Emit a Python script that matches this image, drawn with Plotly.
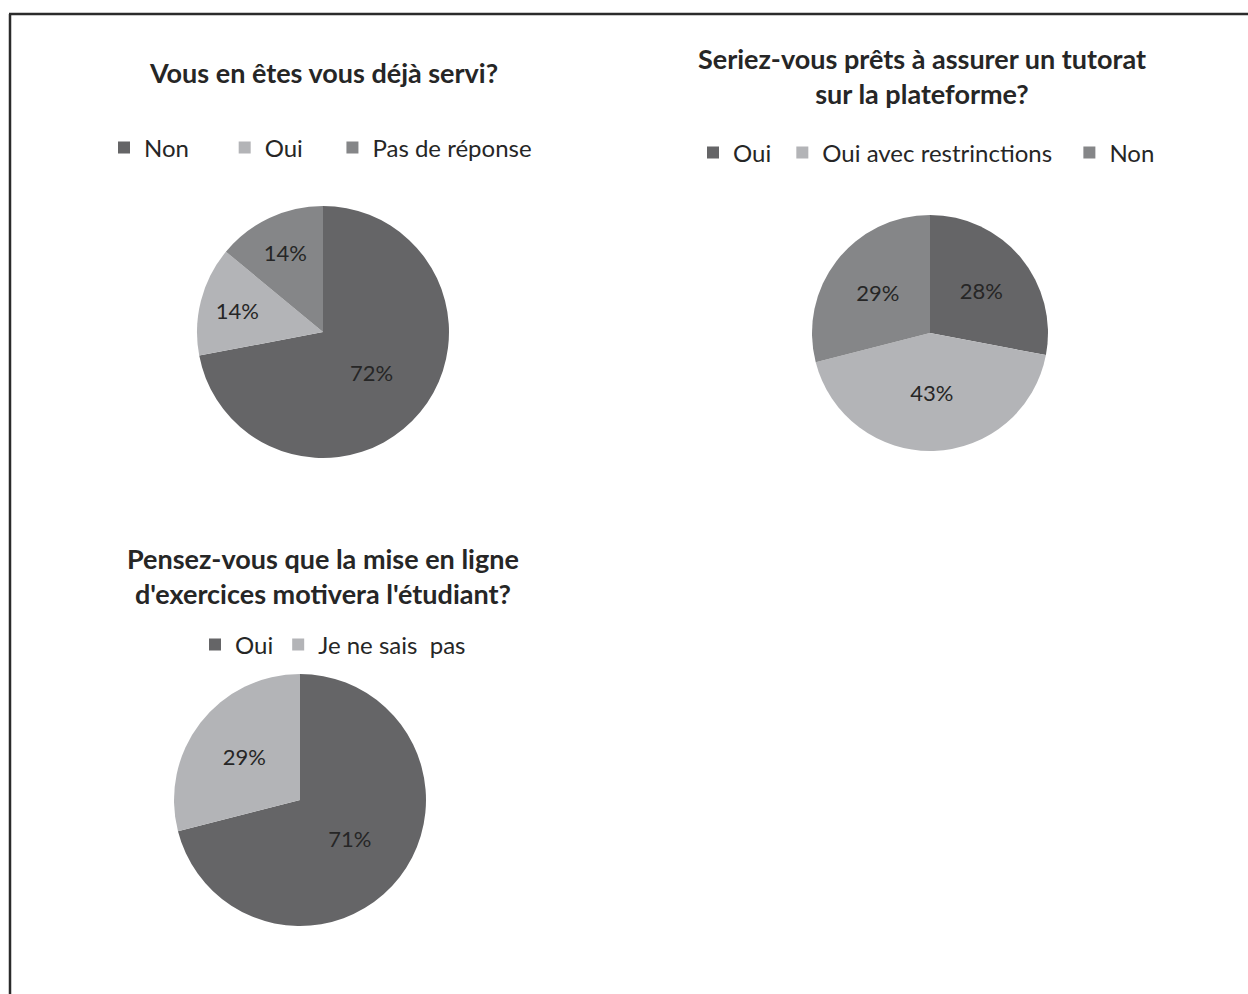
import plotly.graph_objects as go

W, H = 1248, 994

# Data
titles = [
    "Vous en êtes vous déjà servi?",
    "Seriez-vous prêts à assurer un tutorat<br>sur la plateforme?",
    "Pensez-vous que la mise en ligne<br>d'exercices motivera l'étudiant?",
]
labels1 = ["Non", "Oui", "Pas de réponse"]
values1 = [72, 14, 14]
labels2 = ["Oui", "Oui avec restrinctions", "Non"]
values2 = [28, 43, 29]
labels3 = ["Oui", "Je ne sais  pas"]
values3 = [71, 29]

DARK, LIGHT, MID = "#656567", "#b3b4b7", "#858688"
colors1 = [DARK, LIGHT, MID]
colors2 = [DARK, LIGHT, MID]
colors3 = [DARK, LIGHT]

FONT = "Lato"
TXT = "#262626"
NB = "\u00a0"


def px_dom(x0, x1, y0, y1):
    return dict(x=[x0 / W, x1 / W], y=[1 - y1 / H, 1 - y0 / H])


fig = go.Figure()
pies = [
    (labels1, values1, colors1, px_dom(197, 449, 206, 458), "legend", [5, 4, 0]),
    (labels2, values2, colors2, px_dom(812, 1048, 215, 451), "legend2", [1, 2, 0]),
    (labels3, values3, colors3, px_dom(174, 426, 674, 926), "legend3", [0, 0]),
]
for i, (lab, val, col, dom, leg, pad) in enumerate(pies):
    # zero-width suffix keeps legend entries of different pies separate;
    # trailing no-break spaces reproduce the legend spacing
    uniq = [l + "\u200b" * i + NB * p for l, p in zip(lab, pad)]
    fig.add_trace(go.Pie(
        labels=uniq, values=val, sort=False, direction="clockwise", rotation=0,
        marker=dict(colors=col, line=dict(width=0)),
        texttemplate="%{percent:.0%}", textposition="inside",
        insidetextorientation="horizontal",
        textfont=dict(family=FONT, size=22, color=TXT),
        domain=dom, legend=leg, showlegend=True, hoverinfo="label+percent",
    ))

legfont = dict(family=FONT, size=24, color=TXT)
common = dict(orientation="h", font=legfont, bgcolor="rgba(0,0,0,0)",
              xanchor="left", yanchor="middle", xref="paper", yref="paper",
              itemclick=False, itemdoubleclick=False, traceorder="normal")

fig.update_layout(
    width=W, height=H, margin=dict(l=0, r=0, t=0, b=0),
    paper_bgcolor="white", plot_bgcolor="white",
    legend=dict(common, x=104 / W, y=1 - 148 / H),
    legend2=dict(common, x=693 / W, y=1 - 153 / H),
    legend3=dict(common, x=195 / W, y=1 - 645 / H),
)

title_pos = [(323, 72), (922, 76), (323, 576)]
for t, (cx, cy) in zip(titles, title_pos):
    fig.add_annotation(text="<b>" + t + "</b>", x=cx / W, y=1 - cy / H,
                       xref="paper", yref="paper", showarrow=False,
                       xanchor="center", yanchor="middle",
                       font=dict(family=FONT, size=27, color=TXT))

# outer frame
fig.add_shape(type="line", xref="paper", yref="paper", x0=9 / W, x1=1.0,
              y0=1 - 14 / H, y1=1 - 14 / H, line=dict(color="#2b2b2b", width=2.5))
fig.add_shape(type="line", xref="paper", yref="paper", x0=10 / W, x1=10 / W,
              y0=0, y1=1 - 14 / H, line=dict(color="#2b2b2b", width=2.5))

fig.write_html("out.html", config={"displayModeBar": False},
               post_script="document.body.style.margin='0';"
                           "document.body.style.overflow='hidden';")
